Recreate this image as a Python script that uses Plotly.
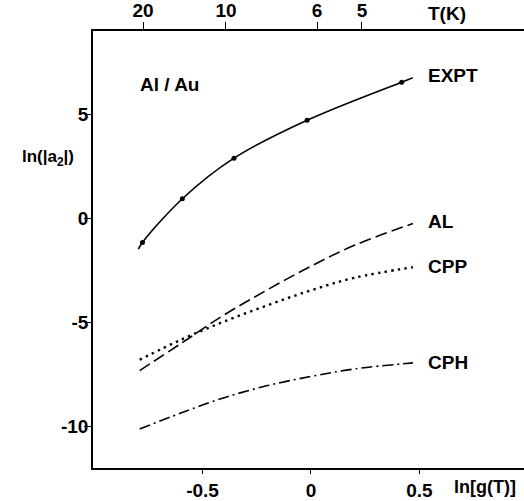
import plotly.graph_objects as go

# ln[g(T)] positions of the experimental points and their ln(|a2|) values
expt_x = [-0.777, -0.593, -0.355, -0.018, 0.418]
expt_y = [-1.16, 0.94, 2.89, 4.71, 6.54]
# smooth guide curve through the experimental points (with short run-out at both ends)
expt_curve_x = [-0.796, -0.777, -0.593, -0.355, -0.018, 0.418, 0.469]
expt_curve_y = [-1.48, -1.16, 0.94, 2.89, 4.71, 6.54, 6.75]

# theoretical curves
theory_x = [-0.79, -0.6, -0.4, -0.2, 0.0, 0.2, 0.47]
al_y = [-7.32, -6.02, -4.64, -3.43, -2.30, -1.30, -0.25]
cpp_y = [-6.80, -5.84, -4.96, -4.18, -3.46, -2.86, -2.35]
cph_y = [-10.13, -9.36, -8.62, -8.04, -7.60, -7.24, -6.95]

# temperature scale on the top axis
t_labels = ["20", "10", "6", "5"]
t_positions = [-0.774, -0.392, 0.028, 0.235]

y_ticks = [-10, -5, 0, 5]
y_tick_text = ["-10", "-5", "0", "5"]
x_ticks = [-0.5, 0, 0.5]
x_tick_text = ["-0.5", "0", "0.5"]

FONT = "Liberation Sans"
tick_font = dict(family=FONT, size=19, color="black", weight="bold")

fig = go.Figure()

fig.add_trace(go.Scatter(x=expt_curve_x, y=expt_curve_y, mode="lines",
                         line=dict(color="black", width=1.6, shape="spline"),
                         hoverinfo="skip"))
fig.add_trace(go.Scatter(x=expt_x, y=expt_y, mode="markers",
                         marker=dict(color="black", size=5)))
fig.add_trace(go.Scatter(x=theory_x, y=al_y, mode="lines",
                         line=dict(color="black", width=1.6, shape="spline",
                                   dash="12px,5px")))
fig.add_trace(go.Scatter(x=theory_x, y=cpp_y, mode="lines",
                         line=dict(color="black", width=2.4, shape="spline",
                                   dash="2.4px,4.3px")))
fig.add_trace(go.Scatter(x=theory_x, y=cph_y, mode="lines",
                         line=dict(color="black", width=1.6, shape="spline",
                                   dash="11px,4px,2px,4px")))
# anchor trace for the temperature axis
fig.add_trace(go.Scatter(x=t_positions, y=[None] * len(t_positions), xaxis="x2",
                         mode="markers", marker=dict(opacity=0), hoverinfo="skip"))

x_range = [-1.005, 0.982]

fig.update_layout(
    width=524, height=501,
    margin=dict(l=93, r=0, t=30, b=30),
    paper_bgcolor="white", plot_bgcolor="white",
    showlegend=False,
    xaxis=dict(range=x_range, showgrid=False, zeroline=False,
               showline=True, linecolor="black", linewidth=1.6,
               ticks="outside", ticklen=4, tickwidth=1.4, tickcolor="black",
               tickvals=x_ticks, ticktext=x_tick_text, tickfont=tick_font),
    xaxis2=dict(range=x_range, overlaying="x", side="top", anchor="y",
                showgrid=False, zeroline=False,
                showline=True, linecolor="black", linewidth=1.6,
                ticks="outside", ticklen=7, tickwidth=1.4, tickcolor="black",
                ticklabelstandoff=-2,
                tickvals=t_positions, ticktext=t_labels, tickfont=tick_font),
    yaxis=dict(range=[-12, 9], showgrid=False, zeroline=False,
               showline=True, linecolor="black", linewidth=1.6,
               ticks="outside", ticklen=7, tickwidth=1.4, tickcolor="black",
               ticklabelstandoff=-8,
               tickvals=y_ticks, ticktext=y_tick_text, tickfont=tick_font),
)

label_font = dict(family=FONT, size=19, color="black", weight="bold")


def label(text, x, y, ref="data", anchor="left", size=19):
    xref, yref = ("x", "y") if ref == "data" else ("paper", "paper")
    fig.add_annotation(text=text, x=x, y=y, xref=xref, yref=yref,
                       xanchor=anchor, yanchor="middle", showarrow=False,
                       font=dict(label_font, size=size))


label("EXPT", 0.53, 6.86)
label("AL", 0.53, -0.14)
label("CPP", 0.53, -2.33)
label("CPH", 0.53, -6.95)
label("Al / Au", -0.797, 6.43)
label("T(K)", 0.821, 1.039, ref="paper", anchor="center")
label("ln(|a<sub>2</sub>|)", -0.104, 0.710, ref="paper", anchor="center", size=17)
label("ln[g(T)]", 0.9095, -0.043, ref="paper", anchor="center", size=18)

fig.write_html("out.html")
